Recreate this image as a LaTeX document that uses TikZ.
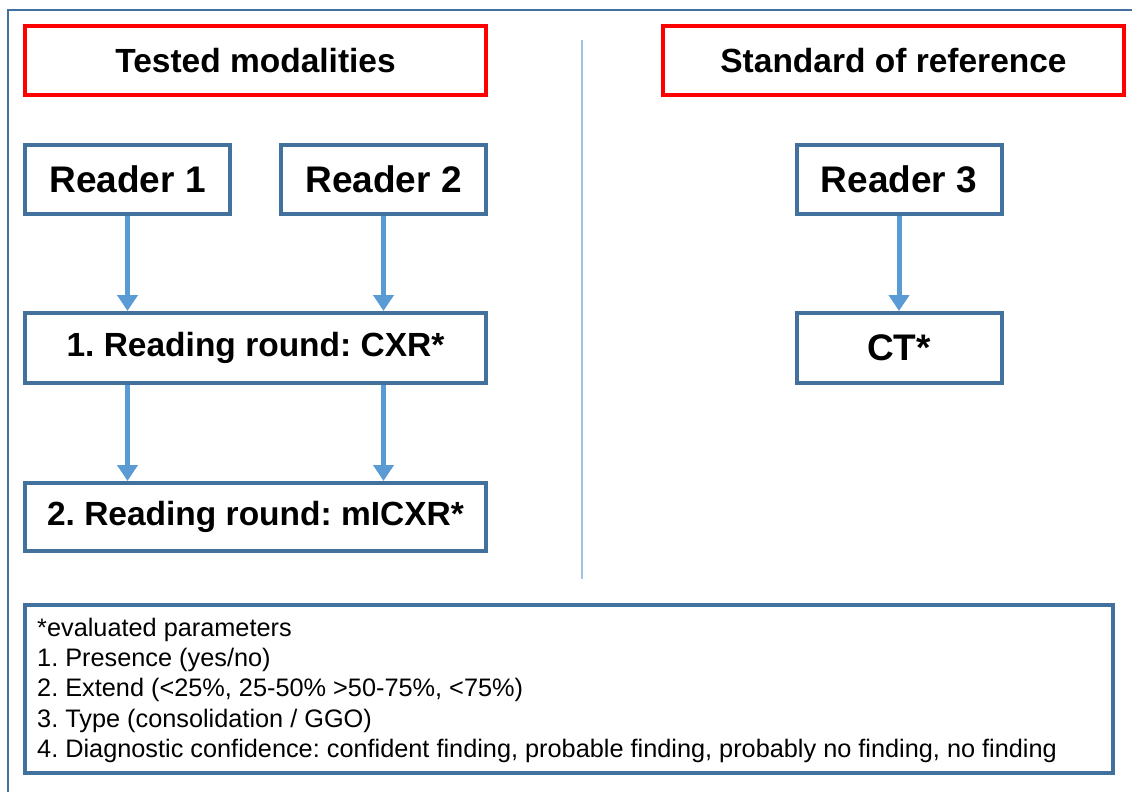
\documentclass[tikz,border=0pt]{standalone}
\usepackage{fontspec}
\setmainfont{Liberation Sans}
\usetikzlibrary{arrows.meta}
\frenchspacing

\definecolor{frameblue}{RGB}{65,113,156}
\definecolor{arrowblue}{RGB}{91,155,213}
\definecolor{divblue}{RGB}{157,195,230}
\definecolor{headred}{RGB}{255,0,0}

\tikzset{
  headbox/.style={draw=headred, line width=4pt, fill=white, inner sep=0pt,
    minimum width=461pt, minimum height=69pt,
    font=\fontsize{33.5}{40}\selectfont\bfseries},
  stepbox/.style={draw=frameblue, line width=4pt, fill=white, inner sep=0pt,
    minimum height=69pt, font=\fontsize{33.5}{40}\selectfont\bfseries},
  readerbox/.style={stepbox, minimum width=205pt, font=\fontsize{37}{44}\selectfont\bfseries},
  flow/.style={draw=arrowblue, line width=5pt,
    -{Triangle[width=20pt,length=16pt]}}
}

\begin{document}
\begin{tikzpicture}[x=1pt,y=-1pt]
  \useasboundingbox (0,0) rectangle (1132,792);
  \begin{scope}
    \clip (0,0) rectangle (1132,792);
    % outer panel frame, running off the right and bottom edges
    \draw[frameblue, line width=2pt] (8,10) rectangle (1150,810);
  \end{scope}

  % divider between the two columns
  \draw[divblue, line width=1.5pt] (582,40) -- (582,579);

  % column headings
  \node[headbox] (tested) at (255.5,60.5) {Tested modalities};
  \node[headbox] (sor) at (893.5,60.5) {Standard of reference};

  % readers
  \node[readerbox] (r1) at (127.5,179.5) {Reader 1};
  \node[readerbox] (r2) at (383.5,179.5) {Reader 2};
  \node[readerbox] (r3) at (899,179.5) {Reader 3};

  % reading rounds
  \node[stepbox, minimum width=461pt, minimum height=70pt] (cxr) at (255.5,348) {1. Reading round: CXR*};
  \node[stepbox, minimum width=461pt, minimum height=68pt] (micxr) at (255.5,517) {2. Reading round: mICXR*};
  \node[readerbox, minimum height=70pt] (ct) at (899,348) {CT*};

  % connectors
  \draw[flow] (r1.south) -- (r1.south |- cxr.north);
  \draw[flow] (r2.south) -- (r2.south |- cxr.north);
  \draw[flow] (r1.south |- cxr.south) -- (r1.south |- micxr.north);
  \draw[flow] (r2.south |- cxr.south) -- (r2.south |- micxr.north);
  \draw[flow] (r3.south) -- (ct.north);

  % legend of evaluated parameters
  \node[draw=frameblue, line width=4pt, inner sep=0pt,
        minimum width=1088pt, minimum height=168.5pt] (legend) at (569,688.75) {};
  \node[anchor=north west, inner sep=0pt, align=left,
        font=\fontsize{25.3}{30.4}\selectfont] (params) at (37,617.5)
    {*evaluated parameters\\
     1. Presence (yes/no)\\
     2. Extend (<25\%, 25-50\% >50-75\%, <75\%)\\
     3. Type (consolidation / GGO)\\
     4. Diagnostic confidence: confident finding, probable finding, probably no finding, no finding};
\end{tikzpicture}
\end{document}
